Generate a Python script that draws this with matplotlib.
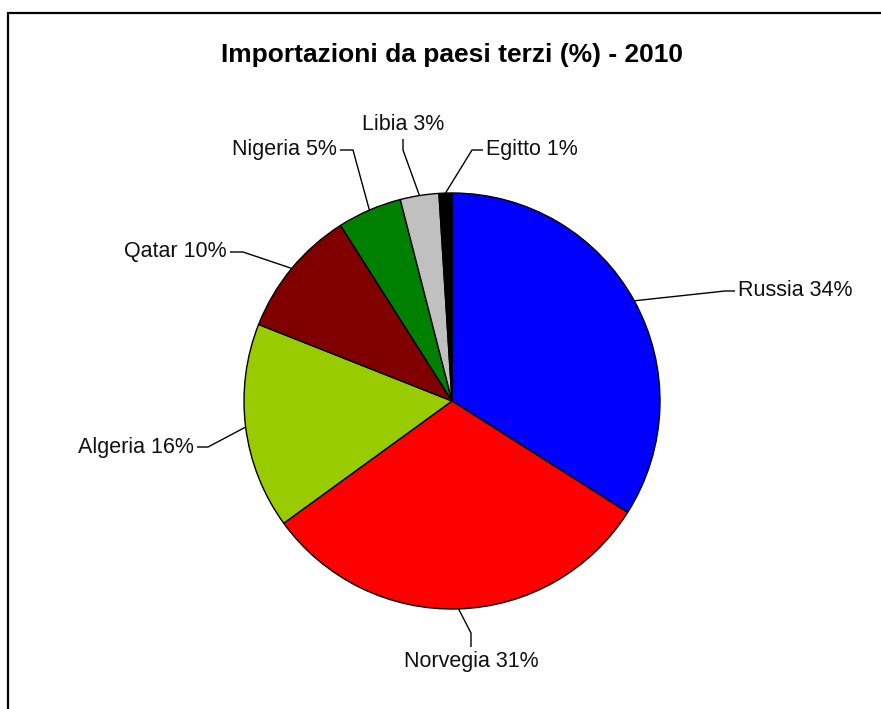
import numpy as np
import matplotlib
matplotlib.use("Agg")
from matplotlib import pyplot as plt
from matplotlib.patches import Rectangle

paesi = ["Russia", "Norvegia", "Algeria", "Qatar", "Nigeria", "Libia", "Egitto"]
quote = [34, 31, 16, 10, 5, 3, 1]
colori = ["#0000FF", "#FF0000", "#99CC00", "#800000", "#008000", "#C0C0C0", "#000000"]

W, H = 881, 709
plt.rcParams['font.family'] = ['Liberation Sans', 'DejaVu Sans']

fig = plt.figure(figsize=(W / 100, H / 100), dpi=100)
ax = fig.add_axes([0, 0, 1, 1])

cx, cy, r = 452, H - 401, 208
wedges, _ = ax.pie(quote, colors=colori, startangle=90, counterclock=False,
                   center=(cx, cy), radius=r,
                   wedgeprops=dict(edgecolor='black', linewidth=1.0))

# leader layout in pixel coords: elbow, end of leader, text anchor, alignment
layout = [
    ((725, 291), (735, 291), (738, 291), 'left', 'center'),
    ((471, 633), (471, 647), (471, 651), 'center', 'top'),
    ((208, 447), (197, 447), (194, 447), 'right', 'center'),
    ((243, 252), (230, 252), (227, 252), 'right', 'center'),
    ((353, 150), (340, 150), (337, 150), 'right', 'center'),
    ((403, 150), (403, 139), (403, 135), 'center', 'bottom'),
    ((472, 150), (483, 150), (486, 150), 'left', 'center'),
]

for w, nome, q, (elb, fine, txt, ha, va) in zip(wedges, paesi, quote, layout):
    ang = np.deg2rad((w.theta1 + w.theta2) / 2)
    x0, y0 = cx + r * np.cos(ang), cy + r * np.sin(ang)
    xs = [x0, elb[0], fine[0]]
    ys = [y0, H - elb[1], H - fine[1]]
    ax.plot(xs, ys, color='black', lw=1.0, solid_capstyle='butt')
    ax.text(txt[0], H - txt[1], f"{nome} {q}%", ha=ha, va=va, fontsize=15.5, color='#111111')

ax.text(452, H - 55, "Importazioni da paesi terzi (%) - 2010", ha='center', va='center',
        fontsize=19, fontweight='bold')

ax.add_patch(Rectangle((8, -20), 1000, H - 13 + 20, fill=False, edgecolor='black', lw=1.6))

ax.set_xlim(0, W)
ax.set_ylim(0, H)
ax.set_aspect('equal')
ax.axis('off')

plt.savefig("out.png", dpi=100)
plt.close(fig)
